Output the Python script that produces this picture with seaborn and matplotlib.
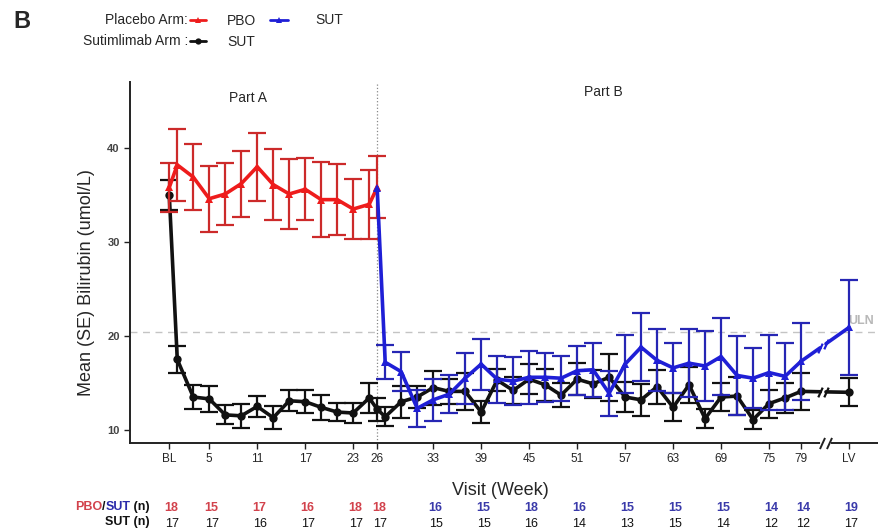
import numpy as np
import pandas as pd
import matplotlib.pyplot as plt
from matplotlib.lines import Line2D
import seaborn as sns

# Gegevens
LV_POS = 85  # positie van "Last Visit" op de x-as

weeks_a = [0, 1, 3, 5, 7, 9, 11, 13, 15, 17, 19, 21, 23, 25, 26]
pbo_mean = [35.8, 38.2, 36.9, 34.6, 35.1, 36.2, 38.0, 36.1, 35.1, 35.6, 34.5, 34.5, 33.5, 34.0, 35.8]
pbo_se = [2.6, 3.8, 3.5, 3.5, 3.3, 3.5, 3.6, 3.8, 3.7, 3.3, 4.0, 3.8, 3.2, 3.7, 3.3]

weeks_b = [27, 29, 31, 33, 35, 37, 39, 41, 43, 45, 47, 49, 51, 53, 55,
           57, 59, 61, 63, 65, 67, 69, 71, 73, 75, 77, 79]

# PBO -> SUT (blauw), start op week 26 met laatste PBO-waarde
pbo_sut_start = 35.7
pbo_sut_mean = [17.2, 16.2, 12.3, 13.2, 13.8, 15.5, 17.0, 15.4, 15.2, 15.6, 15.6, 15.5, 16.3, 16.4, 13.9,
                17.0, 18.8, 17.4, 16.6, 17.1, 16.8, 17.8, 15.8, 15.5, 16.1, 15.7, 17.3]
pbo_sut_se = [1.8, 2.1, 2.0, 2.2, 2.0, 2.7, 2.7, 2.5, 2.6, 2.8, 2.6, 2.4, 2.6, 2.9, 2.4,
              3.1, 3.6, 3.3, 2.7, 3.6, 3.7, 4.1, 4.2, 3.2, 4.0, 3.6, 4.1]
pbo_sut_lv = 20.9
pbo_sut_lv_se = 5.1

# SUT-arm (zwart)
sut_mean_a = [35.0, 17.5, 13.5, 13.3, 11.6, 11.5, 12.5, 11.3, 13.1, 13.0, 12.4, 11.9, 11.8, 13.4, 12.2]
sut_se_a = [1.6, 1.4, 1.3, 1.4, 1.0, 1.3, 1.1, 1.2, 1.1, 1.2, 1.3, 1.0, 1.1, 1.6, 1.2]
sut_mean_b = [11.4, 13.0, 13.5, 14.5, 14.1, 14.1, 11.9, 15.3, 14.2, 15.4, 14.8, 13.7, 15.4, 14.9, 15.6,
              13.5, 13.2, 14.6, 12.4, 14.8, 11.2, 13.5, 13.6, 11.1, 12.8, 13.4, 14.1]
sut_se_b = [1.0, 1.7, 1.2, 1.8, 1.3, 2.0, 1.2, 1.2, 1.4, 1.6, 1.7, 1.3, 1.7, 1.5, 2.5,
            1.6, 1.7, 1.8, 1.5, 1.9, 1.0, 1.5, 2.0, 1.0, 1.5, 1.6, 2.0]
sut_lv = 14.0
sut_lv_se = 1.5

uln = 20.4

tick_pos = [0, 5, 11, 17, 23, 26, 33, 39, 45, 51, 57, 63, 69, 75, 79, LV_POS]
tick_labels = ['BL', '5', '11', '17', '23', '26', '33', '39', '45', '51', '57', '63', '69', '75', '79', 'LV']
n_pbo_sut = [18, 15, 17, 16, 18, 18, 16, 15, 18, 16, 15, 15, 15, 14, 14, 19]
n_sut = [17, 17, 16, 17, 17, 17, 15, 15, 16, 14, 13, 15, 14, 12, 12, 17]

RED = '#ee1c1c'
RED_ERR = '#cc2a2a'
BLUE = '#1f1fd6'
BLUE_ERR = '#2626b4'
BLACK = '#111111'
N_RED = '#d2424c'
N_BLUE = '#3a3aaa'

sns.set_style('ticks')
plt.rcParams['font.family'] = ['Liberation Sans', 'DejaVu Sans']

fig = plt.figure(figsize=(8.79, 5.30), dpi=100)
ax = fig.add_axes([0.148, 0.164, 0.852, 0.681])

sut_df = pd.DataFrame({'week': weeks_a + weeks_b, 'mean': sut_mean_a + sut_mean_b,
                       'se': sut_se_a + sut_se_b})
pbo_df = pd.DataFrame({'week': weeks_a, 'mean': pbo_mean, 'se': pbo_se})
blue_df = pd.DataFrame({'week': [26] + weeks_b, 'mean': [pbo_sut_start] + pbo_sut_mean,
                        'se': [np.nan] + pbo_sut_se})

ERR_KW = dict(fmt='none', elinewidth=1.6, capsize=6.5, capthick=1.6)
LINE_KW = dict(estimator=None, sort=False, linewidth=2.6, markersize=6, markeredgewidth=0)

slash = [(-1, -2.2), (1, 2.2)]


def draw_series(df, lv_mean, lv_se, color, ecolor, marker, z):
    ax.errorbar(df['week'], df['mean'], yerr=df['se'], ecolor=ecolor, zorder=z, **ERR_KW)
    ax.errorbar([LV_POS], [lv_mean], yerr=[lv_se], ecolor=ecolor, zorder=z, **ERR_KW)
    sns.lineplot(data=df, x='week', y='mean', color=color, marker=marker, ax=ax, zorder=z + 0.5, **LINE_KW)
    # onderbroken segment naar LV
    x0, y0 = df['week'].iloc[-1], df['mean'].iloc[-1]
    t1, t2 = 0.40, 0.52
    xg1, yg1 = x0 + t1 * (LV_POS - x0), y0 + t1 * (lv_mean - y0)
    xg2, yg2 = x0 + t2 * (LV_POS - x0), y0 + t2 * (lv_mean - y0)
    ax.plot([x0, xg1], [y0, yg1], color=color, lw=2.6, zorder=z + 0.5)
    ax.plot([xg2, LV_POS], [yg2, lv_mean], color=color, lw=2.6, zorder=z + 0.5)
    ax.plot([xg1, xg2], [yg1, yg2], ls='none', marker=slash, ms=7, mew=1.6, color=color, zorder=z + 0.5)
    ax.plot([LV_POS], [lv_mean], marker=marker, ms=6, mew=0, color=color, zorder=z + 0.6)


draw_series(sut_df, sut_lv, sut_lv_se, BLACK, BLACK, 'o', 3)
ax.errorbar(pbo_df['week'], pbo_df['mean'], yerr=pbo_df['se'], ecolor=RED_ERR, zorder=4, **ERR_KW)
sns.lineplot(data=pbo_df, x='week', y='mean', color=RED, marker='^', ax=ax, zorder=4.5, **LINE_KW)
draw_series(blue_df, pbo_sut_lv, pbo_sut_lv_se, BLUE, BLUE_ERR, '^', 5)

# referentielijnen
ax.axhline(uln, color='#c4c4c4', ls=(0, (5, 4)), lw=1, zorder=1)
ax.axvline(26, color='#888888', ls=':', lw=0.9, zorder=1)
ax.text(84.9, uln + 0.6, 'ULN', color='#b8b8b8', fontsize=9, fontweight='bold', ha='left', va='bottom')
ax.text(9.9, 45.3, 'Part A', fontsize=10, ha='center', va='center')
ax.text(54.3, 46.0, 'Part B', fontsize=10, ha='center', va='center')

ax.set_xlim(-4.9, 88.75)
ax.set_ylim(8.6, 47)
ax.set_yticks([10, 20, 30, 40])
ax.set_yticklabels(['10', '20', '30', '40'], fontsize=8, fontweight='bold', color='#444444')
ax.set_xticks(tick_pos)
ax.set_xticklabels(tick_labels, fontsize=8.5)
ax.tick_params(axis='both', length=4, width=1, color='#222222')
sns.despine(ax=ax)
for s in ['left', 'bottom']:
    ax.spines[s].set_linewidth(1.4)
    ax.spines[s].set_color('#222222')

ax.set_ylabel('Mean (SE) Bilirubin (umol/L)', fontsize=13)
ax.yaxis.set_label_coords(-0.047, 0.446)
ax.set_xlabel('Visit (Week)', fontsize=13)
ax.xaxis.set_label_coords(0.494, -0.108)

# asbreuk
ax.plot([81.6, 82.5], [8.6, 8.6], color='white', lw=3, clip_on=False, zorder=6)
ax.plot([81.6, 82.5], [8.6, 8.6], ls='none', marker=slash, ms=8, mew=1.4, color='#222222',
        clip_on=False, zorder=7)

# tabel met aantallen
row1_y, row2_y = 1 - 507 / 530, 1 - 522 / 530
trans = ax.get_xaxis_transform()
for xp, a, b in zip(tick_pos, n_pbo_sut, n_sut):
    c = N_RED if xp <= 26 else N_BLUE
    ax.text(xp + 0.3, -0.18, str(a), transform=trans, color=c, fontsize=9,
            fontweight='bold', ha='center', va='center', clip_on=False)
    ax.text(xp + 0.3, -0.223, str(b), transform=trans, color=BLACK, fontsize=9,
            ha='center', va='center', clip_on=False)

# rijlabels: stukken van rechts naar links aan elkaar zetten
renderer = fig.canvas.get_renderer()
x_right = 150 / 879
for txt, col in [(' (n)', BLACK), ('SUT', '#2a2aaa'), ('/', BLACK), ('PBO', N_RED)]:
    t = fig.text(x_right, row1_y, txt, color=col, fontsize=9, fontweight='bold', va='center', ha='right')
    bb = t.get_window_extent(renderer=renderer)
    x_right = bb.x0 / fig.bbox.width
fig.text(150 / 879, row2_y, 'SUT (n)', color=BLACK, fontsize=9, fontweight='bold', va='center', ha='right')

# legenda
fig.text(22 / 879, 1 - 21 / 530, 'B', fontsize=17, fontweight='bold', ha='center', va='center')
fig.text(188 / 879, 1 - 20 / 530, 'Placebo Arm:', fontsize=10, ha='right', va='center')
fig.text(188 / 879, 1 - 41 / 530, 'Sutimlimab Arm :', fontsize=10, ha='right', va='center')
for (xa, xb, yy, col, mk) in [(190, 206, 20, RED, '^'), (270, 288, 20, BLUE, '^'), (190, 206, 41, BLACK, 'o')]:
    fig.add_artist(Line2D([xa / 879, xb / 879], [1 - yy / 530] * 2, color=col, lw=2,
                          transform=fig.transFigure))
    fig.add_artist(Line2D([(xa + xb) / 2 / 879], [1 - yy / 530], color=col, marker=mk, ms=4.5,
                          mew=0, transform=fig.transFigure))
fig.text(227 / 879, 1 - 21 / 530, 'PBO', fontsize=10, va='center')
fig.text(315 / 879, 1 - 20 / 530, 'SUT', fontsize=10, va='center')
fig.text(227 / 879, 1 - 42 / 530, 'SUT', fontsize=10, va='center')

fig.savefig('out.png', dpi=100)
